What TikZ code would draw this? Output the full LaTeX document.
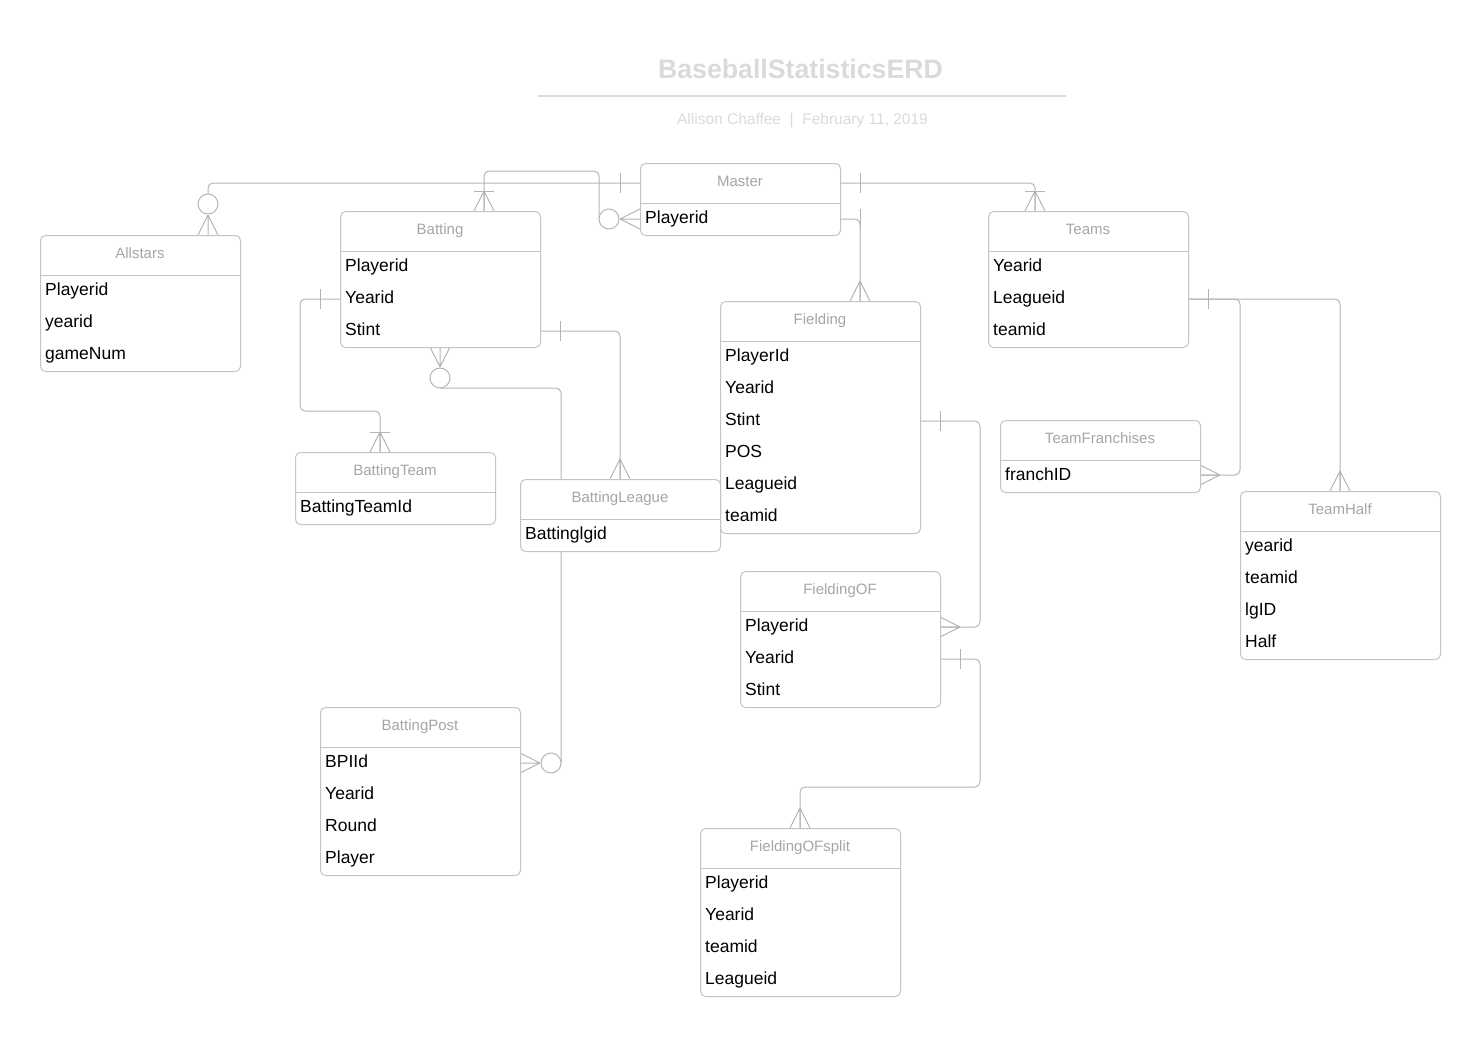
\documentclass[tikz,border=0pt]{standalone}
\usepackage{fontspec}
\setmainfont{Liberation Sans}
\usetikzlibrary{calc}
\definecolor{boxc}{HTML}{C4C4C4}
\definecolor{connc}{HTML}{B4B4B4}
\definecolor{hdrc}{HTML}{A6A6A6}
\definecolor{titc}{HTML}{DADADA}
\tikzset{
 ent/.style={draw=boxc, line width=1pt, rounded corners=5pt, fill=white, anchor=north west, minimum width=200pt, inner sep=0pt},
 hdr/.style={text=hdrc, font=\fontsize{15}{18}\selectfont, anchor=base, inner sep=0pt},
 fld/.style={text=black, font=\fontsize{17.5}{20}\selectfont, anchor=base west, inner sep=0pt},
 conn/.style={draw=connc, line width=1pt},
 rconn/.style={conn, rounded corners=5pt},
 divline/.style={draw=boxc, line width=1pt},
}
% entity: name, x, y, height, title, fields
\newcommand\myent[6]{%
 \node[ent, minimum height=#4pt] (#1) at (#2,#3) {};
 \node[hdr] (#1-h) at ($(#2,#3)+(100,23.5)$) {#5};
 \draw[divline] ($(#2,#3)+(0,40)$) -- ($(#2,#3)+(200,40)$);
 \foreach \t [count=\i from 0] in {#6} {\node[fld] (#1-f\i) at ($(#2,#3)+(5,{60+32*\i})$) {\t};}
}
\newcommand\mycrow[3]{\draw[conn] ($(#1)+({20*(#2)},{20*(#3)})$) -- ($(#1)+({10*(#3)},{10*(#2)})$) ($(#1)+({20*(#2)},{20*(#3)})$) -- ($(#1)-({10*(#3)},{10*(#2)})$) ($(#1)+({20*(#2)},{20*(#3)})$) -- (#1);}
\newcommand\mybar[3]{\draw[conn] ($(#1)+({20*(#2)+10*(#3)},{20*(#3)+10*(#2)})$) -- ($(#1)+({20*(#2)-10*(#3)},{20*(#3)-10*(#2)})$);}
\newcommand\mycirc[3]{\draw[conn, fill=white] ($(#1)+({31*(#2)},{31*(#3)})$) circle[radius=10pt];}
\begin{document}
\begin{tikzpicture}[x=1pt, y=-1pt]
\useasboundingbox (0,0) rectangle (1480,1036);
% title
\node[font=\bfseries\fontsize{26.7}{30}\selectfont, text=titc, anchor=base, inner sep=0pt] (title) at (800.5,78.5) {BaseballStatisticsERD};
\coordinate (ruleL) at (538,96);
\coordinate (ruleR) at (1066,96);
\draw[draw=titc, line width=1.5pt] (ruleL) -- (ruleR);
\node[font=\fontsize{15.5}{18}\selectfont, text=titc, anchor=base, inner sep=0pt] (sub) at (802.5,124) {Allison Chaffee \ |\ \ February 11, 2019};
% connection points
\coordinate (mW1) at (640,183);
\coordinate (mW2) at (640,219);
\coordinate (mE1) at (840,183);
\coordinate (mE2) at (840,219);
\coordinate (aN) at (208,235);
\coordinate (bN) at (484,211);
\coordinate (bW) at (340,299);
\coordinate (bE) at (540,331);
\coordinate (bS) at (440,347);
\coordinate (tN) at (1035,211);
\coordinate (tE) at (1188,299);
\coordinate (fN) at (860,301);
\coordinate (fE) at (920,421);
\coordinate (tfE) at (1200,475);
\coordinate (thN) at (1340,491);
\coordinate (btN) at (380,452);
\coordinate (blN) at (620,479);
\coordinate (foE1) at (940,627);
\coordinate (foE2) at (940,659);
\coordinate (bpE) at (520,763);
\coordinate (fosN) at (800,828);
% connectors
\draw[rconn] (mW1) -| ($(aN)+(0,-41)$);
\draw[rconn] (bN) -- ++(0,-40) -| ($(mW2)+(-41,0)$);
\draw[rconn] (mE1) -| (tN);
\draw[rconn] (mE2) -| (fN);
\draw[rconn] (bW) -- (300,299) -- (300,411) -- (380,411) -- (btN);
\draw[rconn] (bE) -| (blN);
\draw[rconn] ($(bS)+(0,41)$) -| ($(bpE)+(41,0)$);
\draw[rconn] (tE) -- (1240,299) -- (1240,475) -- (tfE);
\draw[rconn] (tE) -| (thN);
\draw[rconn] (fE) -- (980,421) -- (980,627) -- (foE1);
\draw[rconn] (foE2) -- (980,659) -- (980,787) -- (800,787) -- (fosN);
% end marks
\mybar{mW1}{-1}{0}
\mycrow{aN}{0}{-1} \mycirc{aN}{0}{-1}
\mybar{bN}{0}{-1} \mycrow{bN}{0}{-1}
\mycrow{mW2}{-1}{0} \mycirc{mW2}{-1}{0}
\mybar{mE1}{1}{0} \mybar{tN}{0}{-1} \mycrow{tN}{0}{-1}
\mybar{mE2}{1}{0} \mycrow{fN}{0}{-1}
\mybar{bW}{-1}{0} \mybar{btN}{0}{-1} \mycrow{btN}{0}{-1}
\mybar{bE}{1}{0} \mycrow{blN}{0}{-1}
\mycrow{bS}{0}{1} \mycirc{bS}{0}{1}
\mycrow{bpE}{1}{0} \mycirc{bpE}{1}{0}
\mybar{tE}{1}{0} \mycrow{tfE}{1}{0} \mycrow{thN}{0}{-1}
\mybar{fE}{1}{0} \mycrow{foE1}{1}{0}
\mybar{foE2}{1}{0} \mycrow{fosN}{0}{-1}
% entities
\myent{master}{640}{163}{72}{Master}{Playerid}
\myent{allstars}{40}{235}{136}{Allstars}{Playerid,yearid,gameNum}
\myent{batting}{340}{211}{136}{Batting}{Playerid,Yearid,Stint}
\myent{teams}{988}{211}{136}{Teams}{Yearid,Leagueid,teamid}
\myent{fielding}{720}{301}{232}{Fielding}{PlayerId,Yearid,Stint,POS,Leagueid,teamid}
\myent{tfr}{1000}{420}{72}{TeamFranchises}{franchID}
\myent{thalf}{1240}{491}{168}{TeamHalf}{yearid,teamid,lgID,Half}
\myent{bteam}{295}{452}{72}{BattingTeam}{BattingTeamId}
\myent{bleague}{520}{479}{72}{BattingLeague}{Battinglgid}
\myent{fof}{740}{571}{136}{FieldingOF}{Playerid,Yearid,Stint}
\myent{bpost}{320}{707}{168}{BattingPost}{BPIId,Yearid,Round,Player}
\myent{fos}{700}{828}{168}{FieldingOFsplit}{Playerid,Yearid,teamid,Leagueid}
\end{tikzpicture}
\end{document}
